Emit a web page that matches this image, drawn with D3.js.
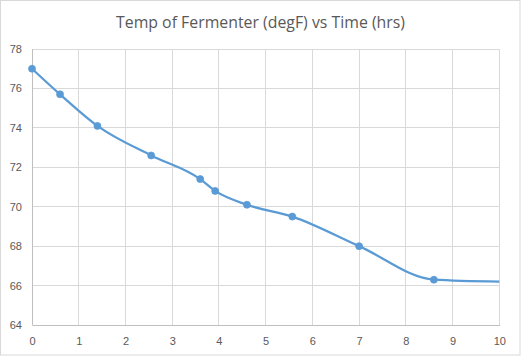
<!DOCTYPE html>
<html><head><meta charset="utf-8">
<script src="https://cdn.jsdelivr.net/npm/d3@7"></script>
<style>body{margin:0;background:#fff}svg{display:block}</style>
</head><body>
<svg id="c" width="521" height="356"></svg>
<script>
const title = "Temp of Fermenter (degF) vs Time (hrs)";
const timeHrs = [0, 0.6, 1.4, 2.55, 3.6, 3.92, 4.6, 5.57, 7.0, 8.6, 10.0];
const tempF   = [77, 75.7, 74.1, 72.6, 71.4, 70.8, 70.1, 69.5, 68.0, 66.3, 66.2];
const markerShown = [true,true,true,true,true,true,true,true,true,true,false];
const xTicks = [0,1,2,3,4,5,6,7,8,9,10];
const yTicks = [64,66,68,70,72,74,76,78];

const W = 521, H = 356;
const m = {left:32, right:499.3, top:49, bottom:325};
const svg = d3.select("#c");
svg.append("rect").attr("x",0.5).attr("y",0.5).attr("width",W-1.5).attr("height",H-1.5)
  .attr("fill","#fff").attr("stroke","#d9d9d9").attr("stroke-width",1);

const x = d3.scaleLinear().domain([0,10]).range([m.left,m.right]);
const y = d3.scaleLinear().domain([64,78]).range([m.bottom,m.top]);

const g = svg.append("g");
g.selectAll(".vg").data(xTicks).join("line")
  .attr("x1",d=>x(d)).attr("x2",d=>x(d)).attr("y1",m.top).attr("y2",m.bottom)
  .attr("stroke","#d9d9d9").attr("stroke-width",1).attr("shape-rendering","crispEdges");
g.selectAll(".hg").data(yTicks).join("line")
  .attr("x1",m.left).attr("x2",m.right).attr("y1",d=>y(d)).attr("y2",d=>y(d))
  .attr("stroke","#d9d9d9").attr("stroke-width",1).attr("shape-rendering","crispEdges");

const xAxis = d3.axisBottom(x).tickValues(xTicks).tickSize(0).tickPadding(12).tickFormat(d3.format("d"));
const yAxis = d3.axisLeft(y).tickValues(yTicks).tickSize(0).tickPadding(10).tickFormat(d3.format("d"));
const gx = svg.append("g").attr("transform",`translate(0,${m.bottom})`).call(xAxis);
const gy = svg.append("g").attr("transform",`translate(${m.left},0)`).call(yAxis);
[gx,gy].forEach(a=>{
  a.select(".domain").attr("stroke","#bfbfbf").attr("stroke-width",1).attr("shape-rendering","crispEdges");
  a.selectAll("text").attr("fill","#595959").style("font-family","'Liberation Sans', Arial, sans-serif").style("font-size","11px");
});
gy.select(".domain").remove();
gy.append("line").attr("x1",0).attr("x2",0).attr("y1",m.top).attr("y2",m.bottom)
  .attr("stroke","#bfbfbf").attr("shape-rendering","crispEdges");

const pts = timeHrs.map((t,i)=>({t, v:tempF[i], show:markerShown[i]}));
const line = d3.line().x(d=>x(d.t)).y(d=>y(d.v)).curve(d3.curveMonotoneX);
svg.append("path").datum(pts).attr("d",line)
  .attr("fill","none").attr("stroke","#5b9bd5").attr("stroke-width",2.25).attr("stroke-linecap","butt");
svg.selectAll(".mk").data(pts.filter(d=>d.show)).join("circle")
  .attr("cx",d=>x(d.t)).attr("cy",d=>y(d.v)).attr("r",3.5)
  .attr("fill","#5b9bd5").attr("stroke","#5b9bd5").attr("stroke-width",0.75);

svg.append("text").attr("x",260.5).attr("y",28).attr("text-anchor","middle")
  .attr("fill","#595959").style("font-family","'Open Sans', sans-serif").style("font-size","17px")
  .attr("textLength",289).attr("lengthAdjust","spacingAndGlyphs").text(title);
</script>
</body></html>
